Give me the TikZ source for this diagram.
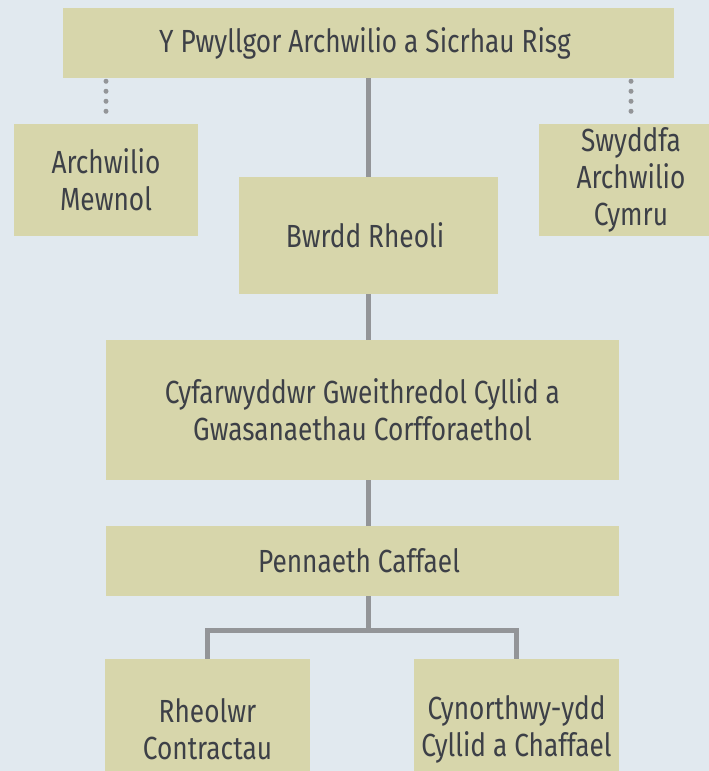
\documentclass[tikz,border=0pt]{standalone}
\usepackage{fontspec}
\setmainfont{Fira Sans}[FakeStretch=0.82]
\usepackage{xcolor}
\usepackage{tikz}
\usetikzlibrary{positioning}
\usetikzlibrary{calc}

\definecolor{bgblue}{HTML}{E1E9EF}
\definecolor{boxolive}{HTML}{D7D6AB}
\definecolor{linegray}{HTML}{939598}
\definecolor{textgray}{HTML}{3D4047}

\tikzset{
 orgbox/.style={fill=boxolive, text=textgray, align=center, inner sep=0pt, font=\fontsize{24}{27.75}\selectfont},
 orgline/.style={draw=linegray, line width=3.75pt},
 auditline/.style={draw=linegray, line width=3.75pt, line cap=round, dash pattern=on 0pt off 7.5pt},
}

\begin{document}
\begin{tikzpicture}[x=0.75pt,y=-0.75pt]
 \fill [bgblue] (0,0) rectangle (709,771);
 \clip (0,0) rectangle (709,771);

 \node (pwyllgor) at (368.5,43) [orgbox, minimum width=458.25pt, minimum height=52.5pt] { Y Pwyllgor Archwilio a Sicrhau Risg };
 \node (mewnol) at (106,180) [orgbox, minimum width=138pt, minimum height=84pt] { Archwilio\\Mewnol };
 \node (swyddfa) at (631,180) [orgbox, minimum width=138pt, minimum height=84pt] { Swyddfa\\Archwilio\\Cymru };
 \node (bwrdd) at (368.5,235.5) [orgbox, minimum width=194.25pt, minimum height=87.75pt] { Bwrdd Rheoli };
 \node (cyfar) at (362.5,410) [orgbox, minimum width=384.75pt, minimum height=105pt] { Cyfarwyddwr Gweithredol Cyllid a\\Gwasanaethau Corfforaethol };
 \node (pennaeth) at (362.5,561) [orgbox, minimum width=384.75pt, minimum height=52.5pt] { Pennaeth Caffael };
 \node (rheolwr) at (207.5,729) [orgbox, minimum width=153.75pt, minimum height=105pt] { Rheolwr\\Contractau };
 \node (cynorth) at (516.5,729) [orgbox, minimum width=153.75pt, minimum height=105pt] { Cynorthwy-ydd\\Cyllid a Chaffael };

 \draw [orgline] (pwyllgor) -- (bwrdd);
 \draw [orgline] (bwrdd) -- (bwrdd |- cyfar.north);
 \draw [orgline] (cyfar.south -| bwrdd) -- (pennaeth.north -| bwrdd);

 % split below Pennaeth Caffael
 \coordinate (split) at ($ (pennaeth.south -| bwrdd) + (0,34) $);
 \draw [orgline] (pennaeth.south -| bwrdd) -- (split);
 \draw [orgline] (rheolwr.north) |- (split -| cynorth.north) -- (cynorth.north);

 % audit links
 \draw [auditline] ($ (pwyllgor.south -| mewnol) + (0,3) $) -- ($ (mewnol.north) + (0,-2.5) $);
 \draw [auditline] ($ (pwyllgor.south -| swyddfa) + (0,3) $) -- ($ (swyddfa.north) + (0,-2.5) $);
\end{tikzpicture}
\end{document}
